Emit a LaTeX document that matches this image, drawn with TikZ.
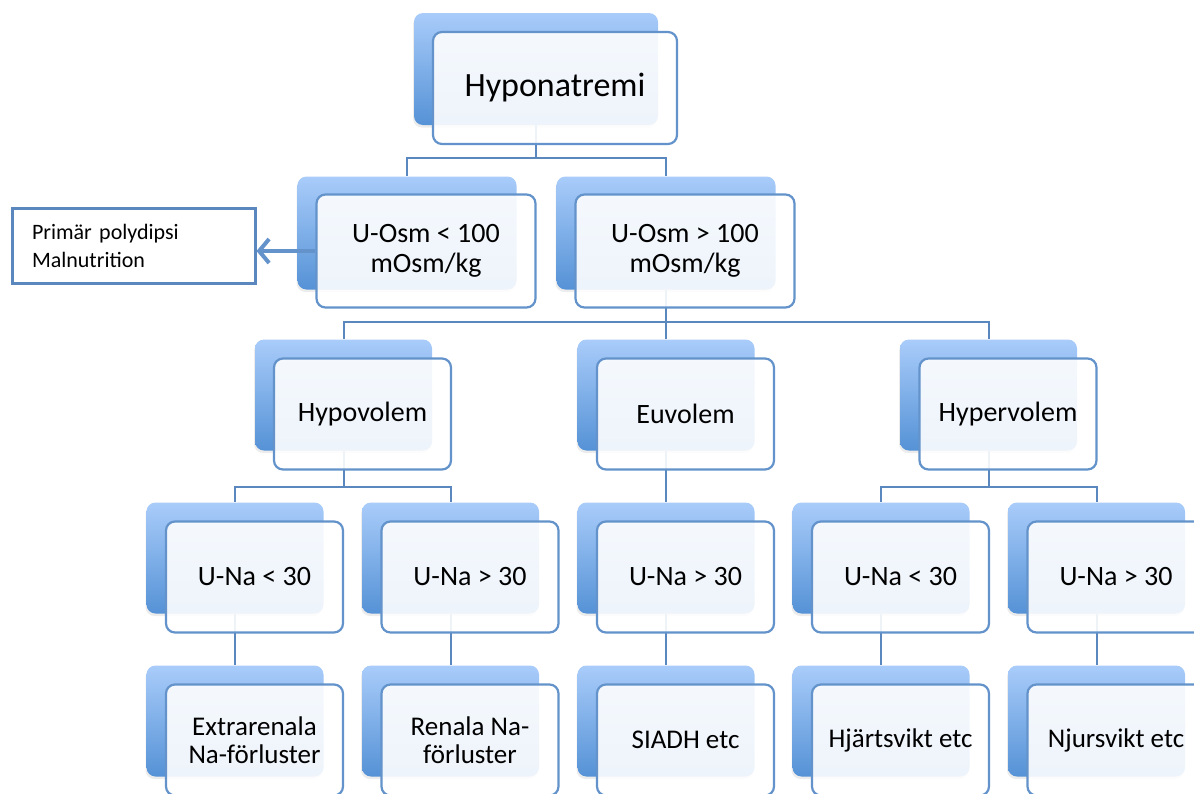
\documentclass[tikz,border=0pt]{standalone}
\usepackage{fontspec}
\setmainfont{Carlito}
\usepackage{tikz}
\usetikzlibrary{positioning,calc,shapes,shadows,arrows.meta}
\definecolor{boxline}{HTML}{6393CA}
\definecolor{linkline}{HTML}{5A87BD}
\definecolor{backtop}{HTML}{A9CCFA}
\definecolor{backbot}{HTML}{5592D6}
\tikzstyle{back}= [rectangle, rounded corners=9pt, top color=backtop, bottom color=backbot, draw=none, inner sep=0pt, drop shadow={opacity=0.15, shadow xshift=-1pt, shadow yshift=-2.5pt}]
\tikzstyle{front}= [rectangle, rounded corners=9pt, draw=boxline, line width=2.2pt, fill=white, fill opacity=0.9, text opacity=1, align=center, inner sep=0pt, font=\fontsize{28}{30}\selectfont]
\tikzstyle{bigbox}= [minimum width=244pt, minimum height=112pt]
\tikzstyle{midbox}= [minimum width=219pt, minimum height=113pt]
\tikzstyle{smallbox}= [minimum width=177pt, minimum height=111pt]
\tikzstyle{link}= [draw=linkline, line width=2pt]
\tikzstyle{polybox}= [rectangle, draw=linkline, line width=3pt, fill=white, minimum width=243pt, minimum height=75pt, text width=203pt, inner xsep=20pt, align=left, font=\fontsize{22}{28}\selectfont]

\begin{document}
\begin{tikzpicture}
					\pgfsetxvec{\pgfpoint{1pt}{0pt}} 
					\pgfsetyvec{\pgfpoint{0pt}{-1pt}} 
					\useasboundingbox (0,0) rectangle (1194,793);
					\clip (0,0) rectangle (1194,793);
					\node[back, bigbox] at (536,69) (topB) {}; 
					\node[back, midbox] at (407,233) (loB) {}; 
					\node[back, midbox] at (666,233) (hiB) {}; 
					\node[back, smallbox] at (343.5,395) (hypoB) {}; 
					\node[back, smallbox] at (666,395) (euB) {}; 
					\node[back, smallbox] at (988.5,395) (hyperB) {}; 
					\node[back, smallbox] at (235,558) (hypoLoB) {}; 
					\node[back, smallbox] at (450.5,558) (hypoHiB) {}; 
					\node[back, smallbox] at (666,558) (euHiB) {}; 
					\node[back, smallbox] at (881,558) (hyperLoB) {}; 
					\node[back, smallbox] at (1096.5,558) (hyperHiB) {}; 
					\node[back, smallbox] at (235,721) (extraB) {}; 
					\node[back, smallbox] at (450.5,721) (renalB) {}; 
					\node[back, smallbox] at (666,721) (siadhB) {}; 
					\node[back, smallbox] at (881,721) (hjartB) {}; 
					\node[back, smallbox] at (1096.5,721) (njurB) {}; 
					\draw[link] (topB.south) -- ++(0,33) -| (loB.north) (topB.south) -- ++(0,33) -| (hiB.north); 
					\draw[link] (hiB.south) -- ++(0,32.5) -| (hypoB.north) (hiB.south) -- ++(0,32.5) -| (euB.north) (hiB.south) -- ++(0,32.5) -| (hyperB.north); 
					\draw[link] (hypoB.south) -- ++(0,36.5) -| (hypoLoB.north) (hypoB.south) -- ++(0,36.5) -| (hypoHiB.north); 
					\draw[link] (hyperB.south) -- ++(0,36.5) -| (hyperLoB.north) (hyperB.south) -- ++(0,36.5) -| (hyperHiB.north); 
					\draw[link] (euB.south) -- (euHiB.north) (hypoLoB.south) -- (extraB.north) (hypoHiB.south) -- (renalB.north) (euHiB.south) -- (siadhB.north) (hyperLoB.south) -- (hjartB.north) (hyperHiB.south) -- (njurB.north); 
					\node[front, bigbox, font=\fontsize{34}{38}\selectfont] at (555,88) (top) {Hyponatremi}; 
					\node[front, midbox] at (426,251) (lo) {U-Osm < 100\\mOsm/kg}; 
					\node[front, midbox] at (685,251) (hi) {U-Osm > 100\\mOsm/kg}; 
					\node[front, smallbox] at (362.5,414) (hypo) {Hypovolem}; 
					\node[front, smallbox] at (685.5,414) (eu) {Euvolem}; 
					\node[front, smallbox] at (1008,414) (hyper) {Hypervolem}; 
					\node[front, smallbox] at (254.5,577) (hypoLo) {U-Na < 30}; 
					\node[front, smallbox] at (470,577) (hypoHi) {U-Na > 30}; 
					\node[front, smallbox] at (685.5,577) (euHi) {U-Na > 30}; 
					\node[front, smallbox] at (900.5,577) (hyperLo) {U-Na < 30}; 
					\node[front, smallbox] at (1116,577) (hyperHi) {U-Na > 30}; 
					\node[front, smallbox, font=\fontsize{27}{28}\selectfont] at (254.5,740) (extra) {Extrarenala\\Na-förluster}; 
					\node[front, smallbox, font=\fontsize{27}{28}\selectfont] at (470,740) (renal) {Renala Na-\\förluster}; 
					\node[front, smallbox, font=\fontsize{27}{28}\selectfont] at (685.5,740) (siadh) {SIADH etc}; 
					\node[front, smallbox, font=\fontsize{27}{28}\selectfont] at (900.5,740) (hjart) {Hjärtsvikt etc}; 
					\node[front, smallbox, font=\fontsize{27}{28}\selectfont] at (1116,740) (njur) {Njursvikt etc}; 
					\node[polybox] at (133.5,245.5) (poly) {Primär polydipsi\\Malnutrition}; 
					\draw[link, draw=boxline, line width=4pt, -{Straight Barb[length=10pt, width=24pt]}] (lo.west) -- (lo.west -| poly.east); 
				\end{tikzpicture}
\end{document}
